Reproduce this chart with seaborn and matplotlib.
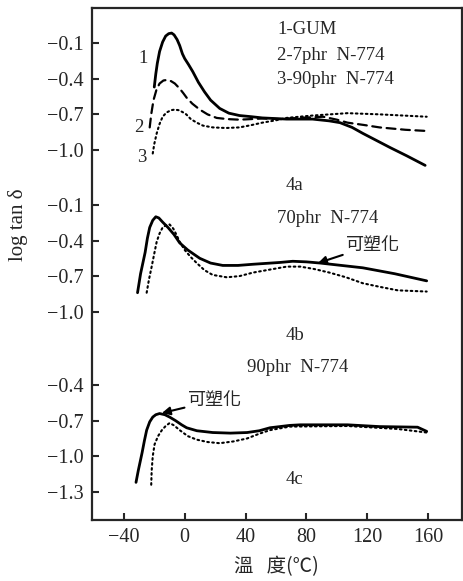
import numpy as np
import pandas as pd
import seaborn as sns
import matplotlib.pyplot as plt

# panel 4a: 1-GUM, 2-7phr, 3-90phr
t_a1 = [-20, -19, -18, -16.5, -14.5, -12.5, -10.5, -8.6, -7, -5, -3.3, -1.5, 0, 2.5, 5.3, 9, 13, 17, 23, 29,
        36, 44, 51, 67, 84, 95, 102, 110, 117, 126, 135, 146, 158]
v_a1 = [-0.47, -0.36, -0.27, -0.17, -0.09, -0.04, -0.02, -0.015, -0.03, -0.07, -0.12, -0.19, -0.23, -0.28, -0.34,
        -0.43, -0.51, -0.58, -0.65, -0.69, -0.71, -0.72, -0.73, -0.74, -0.74, -0.755, -0.77, -0.81, -0.86, -0.92,
        -0.98, -1.05, -1.13]
t_a2 = [-23, -22, -20.5, -18.5, -16.5, -14, -11.8, -9, -6.5, -3.5, -1, 1.3, 5, 9.9, 15, 21, 28, 36, 51, 62.5,
        75, 91, 100, 107, 118, 128, 145, 159]
v_a2 = [-0.81, -0.70, -0.58, -0.49, -0.44, -0.415, -0.41, -0.42, -0.44, -0.48, -0.52, -0.56, -0.61, -0.66, -0.70,
        -0.73, -0.74, -0.745, -0.735, -0.74, -0.73, -0.72, -0.745, -0.77, -0.79, -0.81, -0.83, -0.84]
t_a3 = [-21, -20, -18.4, -16.5, -14.5, -12, -9, -6.6, -4, -1.5, 1, 4, 7.9, 12, 18.4, 27, 36, 44, 51, 60, 67,
        84, 107, 128, 159]
v_a3 = [-1.03, -0.95, -0.86, -0.78, -0.72, -0.685, -0.665, -0.66, -0.665, -0.68, -0.70, -0.74, -0.77, -0.795,
        -0.81, -0.815, -0.81, -0.79, -0.77, -0.75, -0.73, -0.71, -0.69, -0.70, -0.72]

# panel 4b: 70phr N-774 (solid = plasticised)
t_b1 = [-31, -29, -27, -26, -24.5, -23, -21, -19, -17, -14.5, -11, -7, -3.3, 2, 9.9, 17, 25, 35, 45, 62.5,
        71, 80, 89, 103, 117, 138, 159]
v_b1 = [-0.84, -0.68, -0.56, -0.50, -0.38, -0.29, -0.23, -0.20, -0.21, -0.245, -0.29, -0.35, -0.42, -0.48,
        -0.55, -0.59, -0.61, -0.61, -0.60, -0.585, -0.575, -0.58, -0.59, -0.61, -0.63, -0.68, -0.74]
t_b2 = [-25, -23.5, -21.7, -20, -18.4, -16.5, -14.5, -12, -9.9, -7.5, -5.5, -3.3, 0, 4, 7.9, 13, 18.4, 27.6,
        36, 45, 56, 67, 76, 85, 95, 106, 117, 128, 140, 159]
v_b2 = [-0.84, -0.73, -0.62, -0.51, -0.41, -0.34, -0.29, -0.27, -0.265, -0.30, -0.35, -0.41, -0.48, -0.54,
        -0.59, -0.65, -0.69, -0.71, -0.70, -0.67, -0.645, -0.62, -0.62, -0.64, -0.67, -0.71, -0.76, -0.79,
        -0.82, -0.83]

# panel 4c: 90phr N-774 (solid = plasticised)
t_c1 = [-32, -30.5, -29, -28, -26.5, -25, -23, -21, -19, -16.5, -13, -9.9, -6, -2, 1.3, 8, 18.4, 30, 41, 49,
        56, 62.5, 69, 76, 107, 128, 153, 159]
v_c1 = [-1.22, -1.12, -1.03, -0.97, -0.87, -0.78, -0.71, -0.67, -0.65, -0.64, -0.65, -0.67, -0.70, -0.735,
        -0.76, -0.785, -0.80, -0.805, -0.80, -0.785, -0.76, -0.75, -0.74, -0.735, -0.735, -0.75, -0.755, -0.79]
t_c2 = [-22, -21.7, -21, -19.8, -17.5, -15, -12.5, -9.9, -7, -3.3, 2, 7.9, 15, 23, 32, 41, 49, 56, 69, 107,
        140, 159]
v_c2 = [-1.24, -1.12, -1.00, -0.90, -0.83, -0.78, -0.745, -0.72, -0.74, -0.78, -0.83, -0.86, -0.88, -0.89,
        -0.875, -0.85, -0.81, -0.78, -0.75, -0.745, -0.77, -0.80]

offsets = {"a": 0.0, "b": -1.363, "c": -2.581}
ticks_a = [-0.1, -0.4, -0.7, -1.0]
ticks_b = [-0.1, -0.4, -0.7, -1.0]
ticks_c = [-0.4, -0.7, -1.0, -1.3]
xticks = [-40, 0, 40, 80, 120, 160]

sns.set_style("ticks")
plt.rcParams['font.family'] = ['Liberation Serif', 'DejaVu Sans']
plt.rcParams['axes.unicode_minus'] = True
cjk = ['Noto Sans CJK TC', 'DejaVu Sans']

fig = plt.figure(figsize=(4.64, 5.81), dpi=100)
ax = fig.add_axes([0.198, 0.105, 0.797, 0.881])

dots = (0, (0.8, 1.6))
curves = [
    ("a", t_a1, v_a1, "-", 2.0),
    ("a", t_a2, v_a2, (0, (4, 2.5)), 1.6),
    ("a", t_a3, v_a3, dots, 1.5),
    ("b", t_b1, v_b1, "-", 2.0),
    ("b", t_b2, v_b2, dots, 1.5),
    ("c", t_c1, v_c1, "-", 2.0),
    ("c", t_c2, v_c2, dots, 1.5),
]
for panel, t, v, ls, lw in curves:
    d = pd.DataFrame({"T": t, "u": np.array(v) + offsets[panel]})
    sns.lineplot(data=d, x="T", y="u", ax=ax, color="black", linestyle=ls,
                 linewidth=lw, sort=False, estimator=None)
    ax.lines[-1].set_solid_capstyle("round")
    ax.lines[-1].set_dash_capstyle("round")
    ax.lines[-1].set_solid_joinstyle("round")

yt, yl = [], []
for panel, tk in (("a", ticks_a), ("b", ticks_b), ("c", ticks_c)):
    for v in tk:
        yt.append(v + offsets[panel])
        yl.append(f"\u2212{abs(v):.1f}")
ax.set_yticks(yt)
ax.set_yticklabels(yl)
ax.set_xticks(xticks)
ax.set_xticklabels([f"\u2212{abs(x)}" if x < 0 else str(x) for x in xticks])
ax.set_xlim(-61, 182)
ax.set_ylim(-4.118, 0.195)
ax.tick_params(direction="in", length=5, width=1.5, labelsize=14.5, pad=6)
for s in ax.spines.values():
    s.set_linewidth(1.6)

ax.set_ylabel("log tan δ", fontsize=15)
ax.yaxis.set_label_coords(-0.172, 0.576)
ax.set_xlabel("溫   度(℃)", fontsize=14, family=cjk, labelpad=6)

fs = 13.5
ax.text(-27.6, -0.226, "1", fontsize=fs, ha="center", va="center")
ax.text(-30.3, -0.81, "2", fontsize=fs, ha="center", va="center")
ax.text(-28.3, -1.06, "3", fontsize=fs, ha="center", va="center")
ax.text(60.6, 0.018, "1-GUM", fontsize=fs, va="center")
ax.text(60.6, -0.20, "2-7phr  N-774", fontsize=fs, va="center")
ax.text(60.6, -0.41, "3-90phr  N-774", fontsize=fs, va="center")
ax.text(72.4, -1.30, "4a", fontsize=fs, ha="center", va="center")
ax.text(60.6, -1.574, "70phr  N-774", fontsize=fs, va="center")
ax.text(72.4, -2.56, "4b", fontsize=fs, ha="center", va="center")
ax.text(40.8, -2.83, "90phr  N-774", fontsize=fs, va="center")
ax.text(72.4, -3.78, "4c", fontsize=fs, ha="center", va="center")

arrow = dict(arrowstyle="-|>", color="black", lw=1.5, mutation_scale=12, shrinkA=0, shrinkB=0)
ax.annotate("可塑化", xy=(87.6, -1.953), xytext=(106, -1.80), fontsize=13,
            family=cjk, ha="left", va="center", arrowprops=arrow)
ax.annotate("可塑化", xy=(-15, -3.217), xytext=(2, -3.11), fontsize=13,
            family=cjk, ha="left", va="center", arrowprops=arrow)

fig.savefig("out.png", dpi=100)
